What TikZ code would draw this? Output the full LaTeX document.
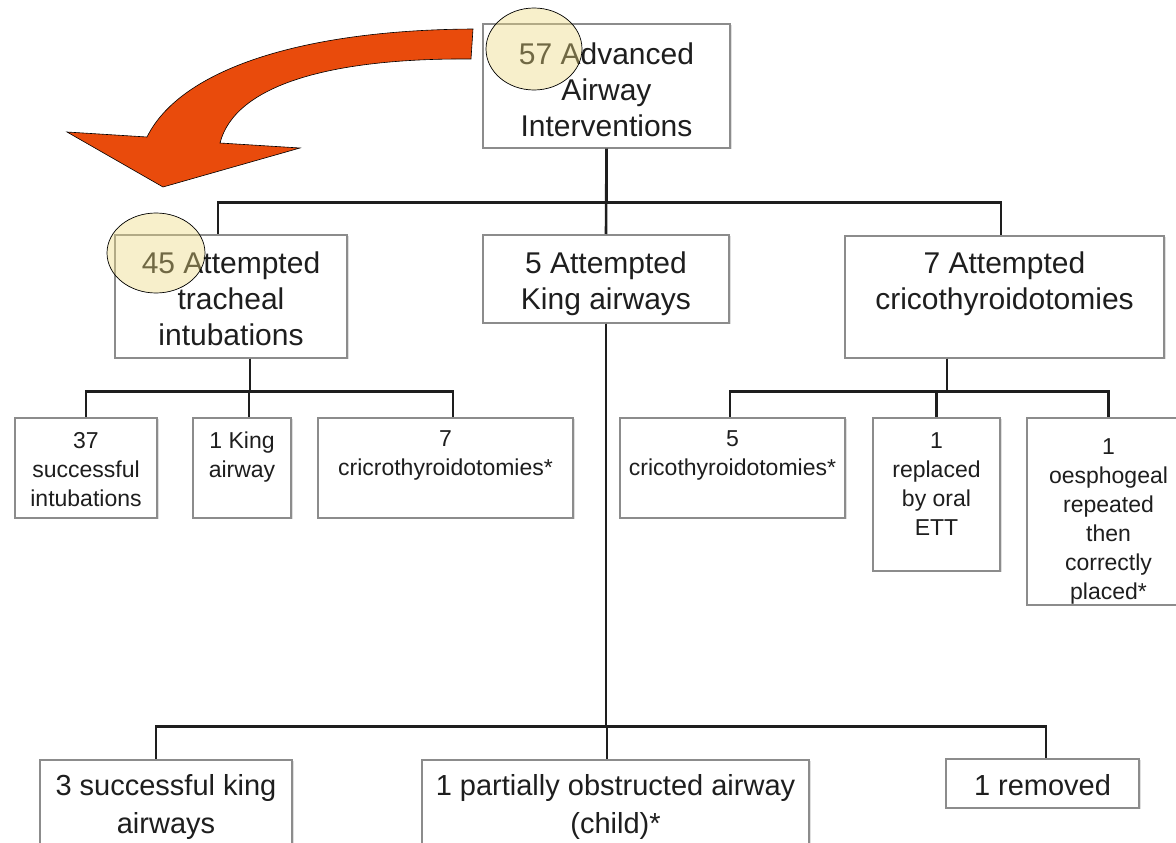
\documentclass[tikz,border=0pt]{standalone}
\usepackage{fontspec}
\setmainfont{Liberation Sans}
\usepackage{tikz}
\usetikzlibrary{shadows}
\definecolor{arrow-orange}{HTML}{E94B0C}
\definecolor{marker-yellow}{HTML}{EDD97D}
\definecolor{box-gray}{HTML}{8C8C8C}
\definecolor{ink}{HTML}{1E1E1E}

\begin{document}
\begin{tikzpicture}[x=1pt, y=-1pt,
    box/.style={draw=box-gray, line width=1.6pt, fill=white, text=ink, align=center,
      anchor=north, inner xsep=2pt, inner ysep=0pt,
      drop shadow={shadow xshift=1.5pt, shadow yshift=-1.5pt, opacity=0.25}},
    big/.style={box, font={\fontsize{30}{36}\selectfont}},
    small/.style={box, font={\fontsize{23}{29}\selectfont}},
    low/.style={box, font={\fontsize{29}{38}\selectfont}},
    wire/.style={draw=ink, line width=2.6pt},
    marker/.style={draw=black, line width=0.7pt, fill=marker-yellow, fill opacity=0.4}]
        \useasboundingbox (0,0) rectangle (1176,843);
        \clip (0,0) rectangle (1176,843);

        \node[big, minimum width=247pt, text height=113pt, text depth=11pt] (r) at (606.5,23) {57 Advanced\\Airway\\Interventions};
        \node[big, minimum width=232pt, text height=111pt, text depth=12pt] (t1) at (231,234) {45 Attempted\\tracheal\\intubations};
        \node[big, minimum width=246pt, text height=75pt, text depth=13pt] (t2) at (606,234) {5 Attempted\\King airways};
        \node[big, minimum width=319pt, text height=74pt, text depth=48pt] (t3) at (1004.5,235) {7 Attempted\\cricothyroidotomies};

        \node[small, minimum width=142pt, text height=89pt, text depth=11pt] (s1) at (86,417) {37\\successful\\intubations};
        \node[small, minimum width=98pt, text height=60pt, text depth=40pt] (s2) at (242,417) {1 King\\airway};
        \node[small, minimum width=255pt, text height=58pt, text depth=42pt] (s3) at (445.5,417) {7\\cricrothyroidotomies*};
        \node[small, minimum width=225pt, text height=58pt, text depth=42pt] (s4) at (732.5,417) {5\\cricothyroidotomies*};
        \node[small, minimum width=127pt, text height=118pt, text depth=35pt] (s5) at (936.5,417) {1\\replaced\\by oral\\ETT};
        \node[small, minimum width=163pt, text height=182pt, text depth=5pt] (s6) at (1108.5,417) {1\\oesphogeal\\repeated\\then\\correctly\\placed*};

        \node[low, minimum width=252pt, text height=74pt, text depth=37pt] (k1) at (166,759) {3 successful king\\airways};
        \node[low, minimum width=387pt, text height=74pt, text depth=37pt] (k2) at (615.5,759) {1 partially obstructed airway\\(child)*};
        \node[low, minimum width=193pt, text height=37pt, text depth=12pt] (k3) at (1042.5,758) {1 removed};

        \draw[wire] (r.south) -- ++(0,54) -| ([xshift=-13pt]t1.north);
        \draw[wire] (r.south) -- ++(0,54) -| ([xshift=-3.5pt]t3.north);
        \draw[wire] (r.south) -- (t2.north);

        \draw[wire] ([xshift=19pt]t1.south) -- ++(0,33) -| (s1.north);
        \draw[wire] ([xshift=19pt]t1.south) -- ++(0,33) -| ([xshift=7pt]s2.north);
        \draw[wire] ([xshift=19pt]t1.south) -- ++(0,33) -| ([xshift=7.5pt]s3.north);

        \draw[wire] ([xshift=-57.5pt]t3.south) -- ++(0,33) -| ([xshift=-2.5pt]s4.north);
        \draw[wire] ([xshift=-57.5pt]t3.south) -- ++(0,33) -| (s5.north);
        \draw[wire] ([xshift=-57.5pt]t3.south) -- ++(0,33) -| (s6.north);

        \draw[wire] (t2.south) -- ++(0,403) -| ([xshift=-10pt]k1.north);
        \draw[wire] (t2.south) -- ++(0,403) -| ([xshift=-8.5pt]k2.north);
        \draw[wire] (t2.south) -- ++(0,403) -| ([xshift=3.5pt]k3.north);

        \filldraw[fill=arrow-orange, draw=black, line width=0.6pt]
          (473,29) .. controls (300,30) and (180,70) .. (147,137) -- (67,132) -- (163,187)
          -- (300,148) -- (220,143) .. controls (235,85) and (330,58) .. (471,59) -- cycle;

        \draw[marker] (534,49) ellipse [x radius=48, y radius=41];
        \draw[marker] (156,253) ellipse [x radius=49, y radius=40];
      \end{tikzpicture}
\end{document}
